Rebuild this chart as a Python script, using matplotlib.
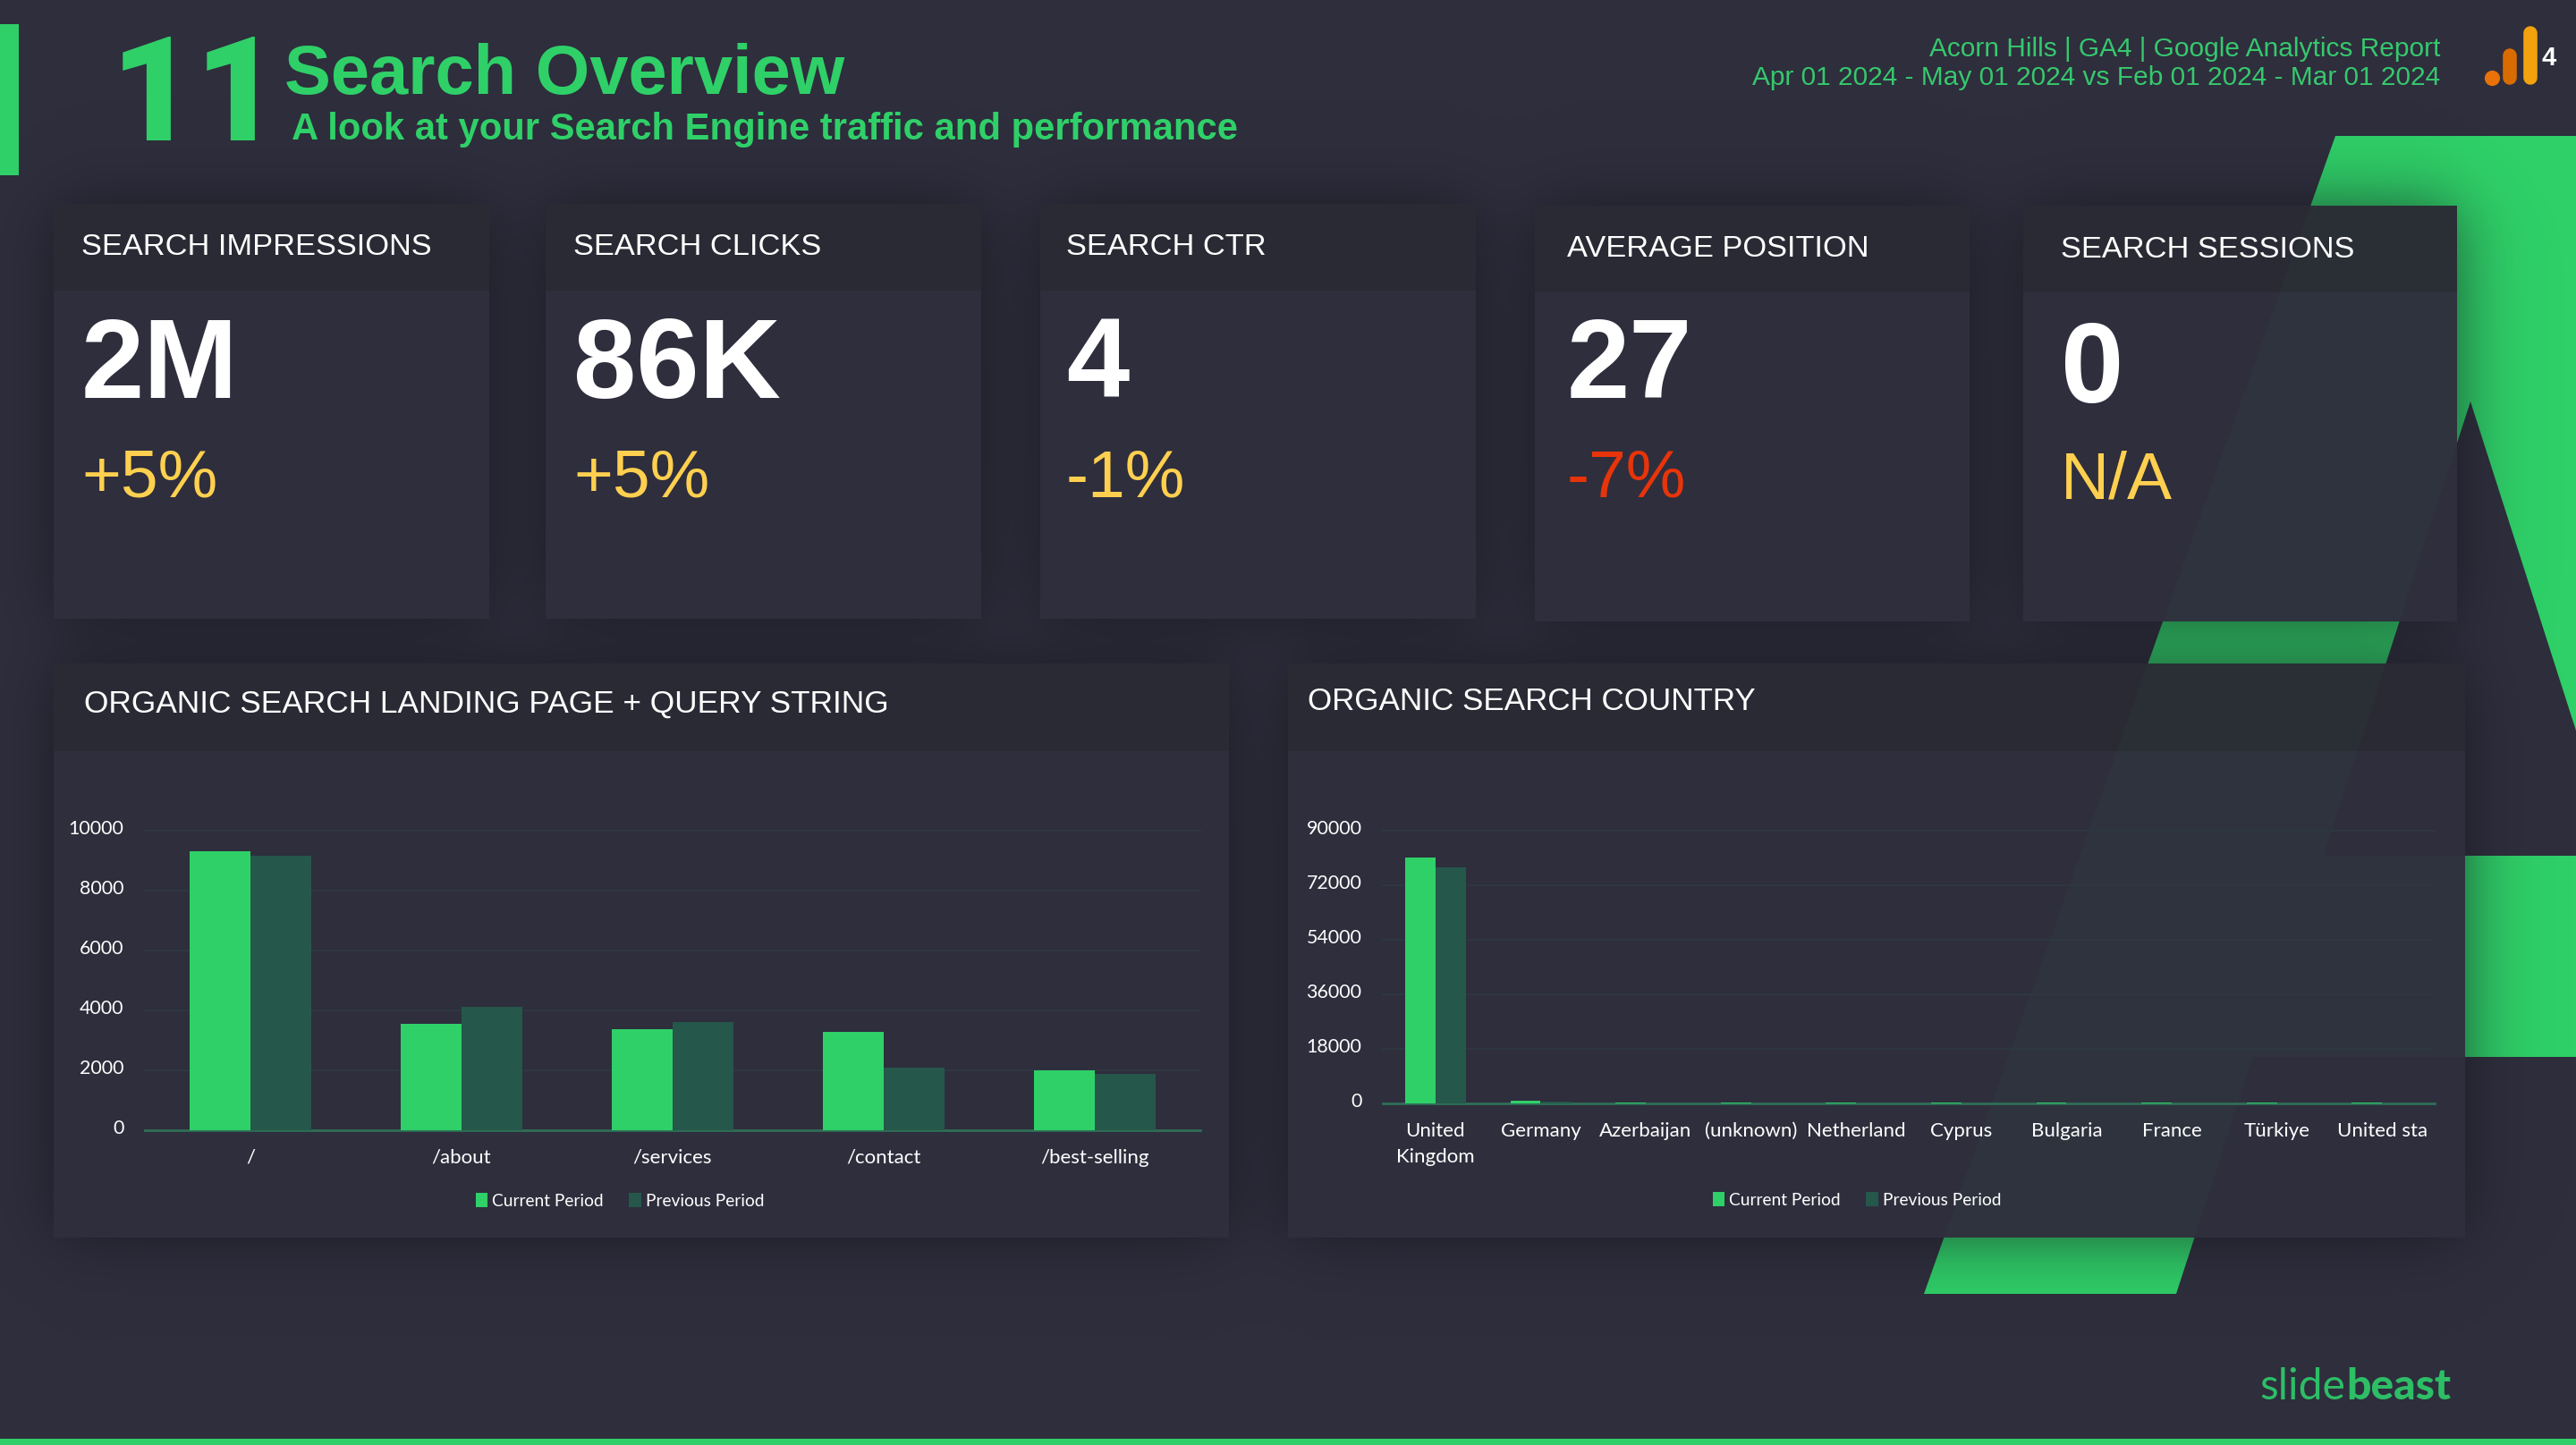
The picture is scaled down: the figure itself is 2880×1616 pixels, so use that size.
# plot.py
import numpy as np
import matplotlib
matplotlib.use('Agg')
import matplotlib.pyplot as plt
from matplotlib.patches import Polygon, Rectangle
from matplotlib.transforms import ScaledTranslation

W, H = 2880, 1616
BG = '#2e2e3d'
GREEN = '#2fd068'
DARK_GREEN = '#25574a'
TEXT_GREEN = '#36c86d'
YELLOW = '#ffd04f'
RED = '#e8340a'

pages = ['/', '/about', '/services', '/contact', '/best-selling']
pages_current = [9300, 3545, 3375, 3275, 1990]
pages_previous = [9160, 4115, 3610, 2085, 1875]
pages_ticks = [0, 2000, 4000, 6000, 8000, 10000]

countries = ['United\nKingdom', 'Germany', 'Azerbaijan', '(unknown)', 'Netherland',
             'Cyprus', 'Bulgaria', 'France', 'Türkiye', 'United sta']
countries_current = [81200, 850, 200, 200, 200, 200, 150, 150, 150, 150]
countries_previous = [78000, 500, 120, 120, 120, 120, 100, 100, 100, 100]
countries_ticks = [0, 18000, 36000, 54000, 72000, 90000]

card_titles = ['SEARCH IMPRESSIONS', 'SEARCH CLICKS', 'SEARCH CTR', 'AVERAGE POSITION', 'SEARCH SESSIONS']
card_values = ['2M', '86K', '4', '27', '0']
card_changes = ['+5%', '+5%', '-1%', '-7%', 'N/A']
change_colors = [YELLOW, YELLOW, YELLOW, RED, YELLOW]

# x0, x1, y0, header bottom, y1
card_boxes = [(60, 547, 228, 325, 692), (610, 1097, 228, 325, 692), (1163, 1650, 228, 325, 692),
              (1716, 2202, 230, 327, 695), (2262, 2747, 230, 327, 695)]
panel_boxes = [(60, 1374, 742, 840, 1384), (1440, 2756, 742, 840, 1384)]
# text x, title baseline, value baseline, change baseline
card_text = [(91, 285, 445, 555), (641, 285, 445, 555), (1192, 285, 445, 555),
             (1752, 287, 445, 556), (2304, 288, 450, 558)]


def px_axes(fig, x0, x1, y0, y1):
    return fig.add_axes([x0 / W, 1 - y1 / H, (x1 - x0) / W, (y1 - y0) / H])


def shadow_layer(boxes, strength=0.68, soft=46.0):
    xs = np.arange(W) + 0.5
    ys = np.arange(H) + 0.5
    keep = np.ones((H, W))
    for x0, x1, y0, _, y1 in boxes:
        mx = 0.5 * (np.tanh((xs - x0) / soft) - np.tanh((xs - x1) / soft))
        my = 0.5 * (np.tanh((ys - y0) / soft) - np.tanh((ys - y1) / soft))
        keep *= 1 - strength * np.outer(my, mx)
    # the shadow only shows outside the boxes
    for x0, x1, y0, _, y1 in boxes:
        keep[y0:y1, x0:x1] = 1
    layer = np.zeros((H, W, 4))
    layer[..., :3] = np.array([0.08, 0.08, 0.11])
    layer[..., 3] = 1 - keep
    return layer


def bar_chart(fig, box, labels, current, previous, ticks, legend_xy, legend_gap):
    ax = px_axes(fig, *box)
    ax.patch.set_alpha(0)
    x = np.arange(len(labels))
    width = 0.288
    ax.bar(x - width / 2, current, width, color=GREEN, label='Current Period', zorder=3)
    ax.bar(x + width / 2, previous, width, color=DARK_GREEN, label='Previous Period', zorder=3)
    ax.set_xlim(-0.5, len(labels) - 0.5)
    ax.set_ylim(0, ticks[-1])
    ax.set_xticks(x)
    ax.set_xticklabels(labels, linespacing=1.6)
    ax.set_yticks(ticks)
    ax.tick_params(length=0, labelcolor='white')
    ax.tick_params(axis='y', pad=8.5, labelsize=7.7)
    ax.tick_params(axis='x', pad=7.4, labelsize=8)
    # tick numbers sit a little above their gridlines in the original
    lift = ScaledTranslation(0, 4 / 200, fig.dpi_scale_trans)
    for label in ax.get_yticklabels():
        label.set_transform(label.get_transform() + lift)
    ax.grid(True, axis='y', color='#2e3841', linewidth=0.7, zorder=1, clip_on=False)
    for name in ['top', 'left', 'right']:
        ax.spines[name].set_visible(False)
    ax.spines['bottom'].set_color('#2f6f56')
    ax.spines['bottom'].set_linewidth(1.0)
    ax.legend(loc='center', bbox_to_anchor=(legend_xy[0] / W, 1 - legend_xy[1] / H),
              bbox_transform=fig.transFigure, ncol=2, frameon=False, labelcolor='white',
              fontsize=6.9, handlelength=0.7, handleheight=0.85, handletextpad=0.25,
              columnspacing=legend_gap, borderpad=0)
    return ax


def main():
    plt.rcParams['font.family'] = ['Lato', 'DejaVu Sans']
    fig = plt.figure(figsize=(W / 200, H / 200), dpi=200, facecolor=BG)

    # full slide layer, in pixels
    bg = fig.add_axes([0, 0, 1, 1])
    bg.set_xlim(0, W)
    bg.set_ylim(H, 0)
    bg.axis('off')
    bg.add_patch(Rectangle((0, 0), W, H, color=BG, zorder=0))

    # big green letter shape behind the cards
    shape = [(2611, 152), (2880, 152), (2880, 817), (2762, 449), (2598, 957), (2880, 957),
             (2880, 1182), (2519, 1182), (2433, 1447), (2151, 1447)]
    bg.add_patch(Polygon(shape, closed=True, color=GREEN, linewidth=0, zorder=1))
    bg.imshow(shadow_layer(card_boxes + panel_boxes), extent=(0, W, H, 0), aspect='auto',
              zorder=2, interpolation='nearest')
    bg.set_xlim(0, W)
    bg.set_ylim(H, 0)

    for x0, x1, y0, y_head, y1 in card_boxes + panel_boxes:
        bg.add_patch(Rectangle((x0, y_head), x1 - x0, y1 - y_head, color=BG, alpha=0.97, linewidth=0, zorder=3))
        bg.add_patch(Rectangle((x0, y0), x1 - x0, y_head - y0, color='#2a2a35', alpha=0.97, linewidth=0, zorder=3))

    bg.add_patch(Rectangle((0, 27), 21, 169, color=GREEN, linewidth=0, zorder=4))
    bg.add_patch(Rectangle((0, 1609), W, 7, color=GREEN, linewidth=0, zorder=4))

    # header
    sans = ['Liberation Sans', 'DejaVu Sans']
    bg.text(124, 157, '11', color=GREEN, fontsize=59, fontweight='black', family=['Roboto', 'DejaVu Sans'], zorder=5)
    bg.text(318, 105, 'Search Overview', color=GREEN, fontsize=28, fontweight='bold', family=sans, zorder=5)
    bg.text(326, 156, 'A look at your Search Engine traffic and performance', color=GREEN,
            fontsize=15.06, fontweight='bold', family=sans, zorder=5)
    bg.text(2728, 63, 'Acorn Hills | GA4 | Google Analytics Report', color=TEXT_GREEN, ha='right',
            fontsize=10.75, family=sans, zorder=5)
    bg.text(2728, 95, 'Apr 01 2024 - May 01 2024 vs Feb 01 2024 - Mar 01 2024', color=TEXT_GREEN, ha='right',
            fontsize=10.75, family=sans, zorder=5)

    # GA4 icon
    bg.plot([2786], [87], marker='o', markersize=6.2, color='#e8710a', markeredgewidth=0, zorder=5)
    for x, top, col in [(2806, 62, '#d96c00'), (2829, 37, '#f2a20c')]:
        bg.plot([x, x], [top, 87], color=col, linewidth=5.6, solid_capstyle='round', zorder=5)
    bg.text(2841, 73, '4', color='white', fontsize=10.5, fontweight='bold', family=sans, zorder=5)

    # score cards
    for i in range(len(card_titles)):
        x, y_title, y_value, y_change = card_text[i]
        bg.text(x, y_title, card_titles[i], color='white', fontsize=12.4, family=sans, zorder=5)
        bg.text(x, y_value, card_values[i], color='white', fontsize=45.5, fontweight='bold', family=sans, zorder=5)
        bg.text(x, y_change, card_changes[i], color=change_colors[i], fontsize=27, family=sans, zorder=5)

    bg.text(94, 797, 'ORGANIC SEARCH LANDING PAGE + QUERY STRING', color='white', fontsize=12.7, family=sans, zorder=5)
    bg.text(1462, 794, 'ORGANIC SEARCH COUNTRY', color='white', fontsize=12.6, family=sans, zorder=5)

    # logo
    bg.text(2526, 1565, 'slide', color='#2dbe66', fontsize=17.3, family='Lato', zorder=5)
    bg.text(2623, 1565, 'beast', color='#2dbe66', fontsize=17.3, fontweight='black', family='Lato', zorder=5)

    bar_chart(fig, (162, 1342, 929, 1264), pages, pages_current, pages_previous, pages_ticks, (693, 1343), 1.5)
    bar_chart(fig, (1546, 2722, 929, 1234), countries, countries_current, countries_previous, countries_ticks,
              (2076, 1342), 1.5)

    fig.savefig('out.png', dpi=200, facecolor=BG)
    plt.close(fig)


if __name__ == '__main__':
    main()
